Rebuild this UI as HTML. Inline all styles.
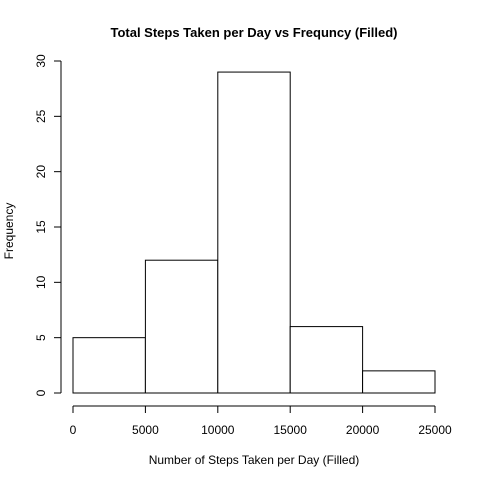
<!DOCTYPE html>
<html><head><meta charset="utf-8"><style>
body{margin:0;background:#fff}
svg{display:block;font-family:"Liberation Sans",Arial,sans-serif}
</style></head><body>
<svg id="chart" width="480" height="480">
<text x="254" y="37" text-anchor="middle" font-size="13" font-weight="bold">Total Steps Taken per Day vs Frequncy (Filled)</text>
<text x="254" y="464" text-anchor="middle" font-size="12">Number of Steps Taken per Day (Filled)</text>
<text transform="translate(13,231) rotate(-90)" text-anchor="middle" font-size="12">Frequency</text>
<g id="bars"></g><g id="xaxis"></g><g id="yaxis"></g>
</svg>
<script>
const binEdges=[0,5000,10000,15000,20000,25000];
const counts=[5,12,29,6,2];
const xTicks=[0,5000,10000,15000,20000,25000];
const yTicks=[0,5,10,15,20,25,30];
const ns="http://www.w3.org/2000/svg";
function X(v){return 73+(v-0)*(435-73)/25000;}
function Y(v){return 393-v*(393-61)/30;}
function mk(tag,attrs,parent){const e=document.createElementNS(ns,tag);for(const k in attrs)e.setAttribute(k,attrs[k]);parent.appendChild(e);return e;}
const bars=document.getElementById('bars');
counts.forEach((c,i)=>{
 const r=mk('rect',{x:X(binEdges[i]),y:Y(c),width:X(binEdges[i+1])-X(binEdges[i]),height:Y(0)-Y(c),fill:'#fff',stroke:'#000','stroke-width':1},bars);
 
 
});
const xa=document.getElementById('xaxis');
const xl=mk('line',{x1:X(xTicks[0]),x2:X(xTicks[xTicks.length-1]),y1:406,y2:406,stroke:'#000'},xa);


xTicks.forEach(t=>{
 mk('line',{x1:X(t),x2:X(t),y1:406,y2:413,stroke:'#000'},xa);
 const tx=mk('text',{x:X(t),y:434,'text-anchor':'middle','font-size':12},xa);
 tx.textContent=t;
 
 
});
const ya=document.getElementById('yaxis');
const yl=mk('line',{x1:61,x2:61,y1:Y(yTicks[0]),y2:Y(yTicks[yTicks.length-1]),stroke:'#000'},ya);


yTicks.forEach(t=>{
 mk('line',{x1:54,x2:61,y1:Y(t),y2:Y(t),stroke:'#000'},ya);
 const tx=mk('text',{transform:'translate(45,'+Y(t)+') rotate(-90)','text-anchor':'middle','font-size':12},ya);
 tx.textContent=t;
 
 
});
</script>
</body></html>
